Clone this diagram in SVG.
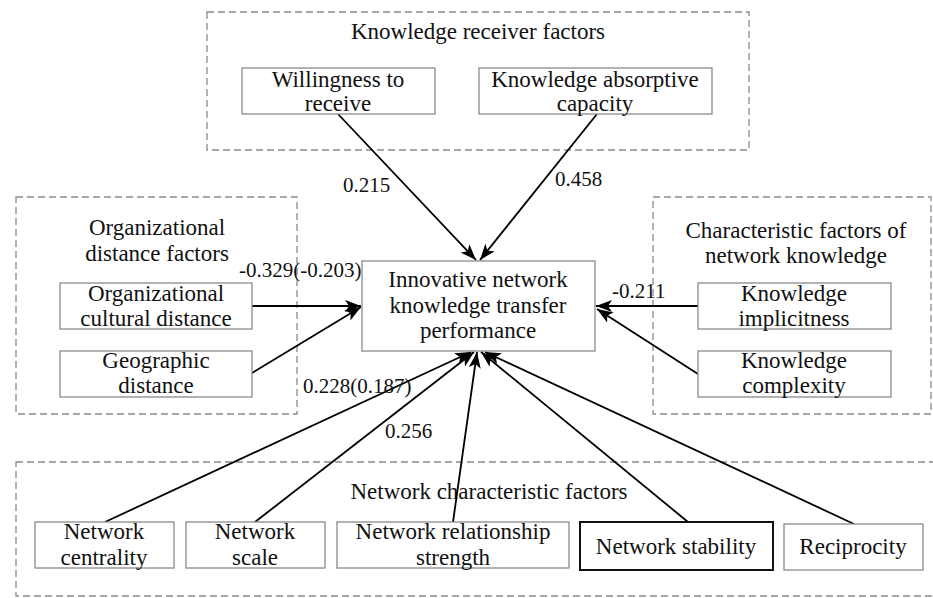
<svg xmlns="http://www.w3.org/2000/svg" width="933" height="598" viewBox="0 0 933 598">
<style>
text{font-family:'Liberation Serif','DejaVu Serif','Times New Roman',serif;font-size:23px;fill:#111;text-anchor:middle}
.num{font-size:21px;text-anchor:start}
.grp{fill:none;stroke:#8a8a8a;stroke-width:1.3;stroke-dasharray:7 4}
.box{fill:#fff;stroke:#8a8a8a;stroke-width:1.3}
.bold{fill:#fff;stroke:#111;stroke-width:2}
.con{stroke:#000;stroke-width:1.8;fill:none;marker-end:url(#ah)}
</style>
<defs>
<marker id="ah" viewBox="0 0 16 12" refX="16" refY="6" markerWidth="16" markerHeight="12" orient="auto" markerUnits="userSpaceOnUse">
<path d="M0,0 L16,6 L0,12 L4,6 z" fill="#000"/>
</marker>
</defs>
<rect width="933" height="598" fill="#fff"/>
<g font-family="Liberation Serif, DejaVu Serif, serif">
<g id="group-receiver">
<rect class="grp" x="207" y="12" width="542" height="138"/>
<text x="478" y="39">Knowledge receiver factors</text>
</g>
<g id="group-distance">
<rect class="grp" x="16" y="197" width="281" height="217"/>
<text x="157" y="235">Organizational</text>
<text x="157" y="261">distance factors</text>
</g>
<g id="group-characteristic">
<rect class="grp" x="653" y="197" width="278" height="217"/>
<text x="796" y="238">Characteristic factors of</text>
<text x="796" y="263">network knowledge</text>
</g>
<g id="group-network">
<rect class="grp" x="16" y="462" width="930" height="134"/>
<text x="489" y="499">Network characteristic factors</text>
</g>
<g id="connectors">
<line class="con" x1="338" y1="114" x2="476" y2="260"/>
<line class="con" x1="597" y1="114" x2="480" y2="260"/>
<line class="con" x1="252" y1="306" x2="361" y2="306"/>
<line class="con" x1="252" y1="373" x2="361" y2="307"/>
<line class="con" x1="698" y1="306" x2="596" y2="306"/>
<line class="con" x1="698" y1="374" x2="597" y2="309"/>
<line class="con" x1="105" y1="522" x2="471" y2="352"/>
<line class="con" x1="255" y1="522" x2="474" y2="352"/>
<line class="con" x1="453" y1="522" x2="477" y2="352"/>
<line class="con" x1="688" y1="522" x2="481" y2="352"/>
<line class="con" x1="854" y1="524" x2="485" y2="352"/>
<text class="num" x="343" y="192">0.215</text>
<text class="num" x="555" y="186">0.458</text>
<text class="num" x="239" y="277">-0.329(-0.203)</text>
<text class="num" x="612" y="298">-0.211</text>
<text class="num" x="303" y="393">0.228(0.187)</text>
<text class="num" x="385" y="438">0.256</text>
</g>
<g id="willingness">
<rect class="box" x="242" y="68" width="193" height="46"/>
<text x="338" y="87">Willingness to</text>
<text x="338" y="111">receive</text>
</g>
<g id="absorptive">
<rect class="box" x="479" y="68" width="233" height="46"/>
<text x="595" y="87">Knowledge absorptive</text>
<text x="595" y="111">capacity</text>
</g>
<g id="performance">
<rect class="box" x="362" y="261" width="233" height="90"/>
<text x="478" y="287">Innovative network</text>
<text x="478" y="313">knowledge transfer</text>
<text x="478" y="338">performance</text>
</g>
<g id="cultural">
<rect class="box" x="60" y="283" width="192" height="46"/>
<text x="156" y="301">Organizational</text>
<text x="156" y="326">cultural distance</text>
</g>
<g id="geographic">
<rect class="box" x="60" y="351" width="192" height="46"/>
<text x="156" y="368">Geographic</text>
<text x="156" y="393">distance</text>
</g>
<g id="implicitness">
<rect class="box" x="698" y="283" width="193" height="46"/>
<text x="794" y="301">Knowledge</text>
<text x="794" y="326">implicitness</text>
</g>
<g id="complexity">
<rect class="box" x="698" y="351" width="193" height="46"/>
<text x="794" y="368">Knowledge</text>
<text x="794" y="393">complexity</text>
</g>
<g id="centrality">
<rect class="box" x="35" y="522" width="139" height="46"/>
<text x="104" y="539">Network</text>
<text x="104" y="565">centrality</text>
</g>
<g id="scale">
<rect class="box" x="186" y="522" width="139" height="46"/>
<text x="255" y="539">Network</text>
<text x="255" y="565">scale</text>
</g>
<g id="relationship">
<rect class="box" x="337" y="522" width="232" height="46"/>
<text x="453" y="539">Network relationship</text>
<text x="453" y="565">strength</text>
</g>
<g id="stability">
<rect class="bold" x="580" y="522" width="193" height="48"/>
<text x="676" y="554">Network stability</text>
</g>
<g id="reciprocity">
<rect class="box" x="784" y="524" width="139" height="46"/>
<text x="853" y="554">Reciprocity</text>
</g>
</g>
</svg>
